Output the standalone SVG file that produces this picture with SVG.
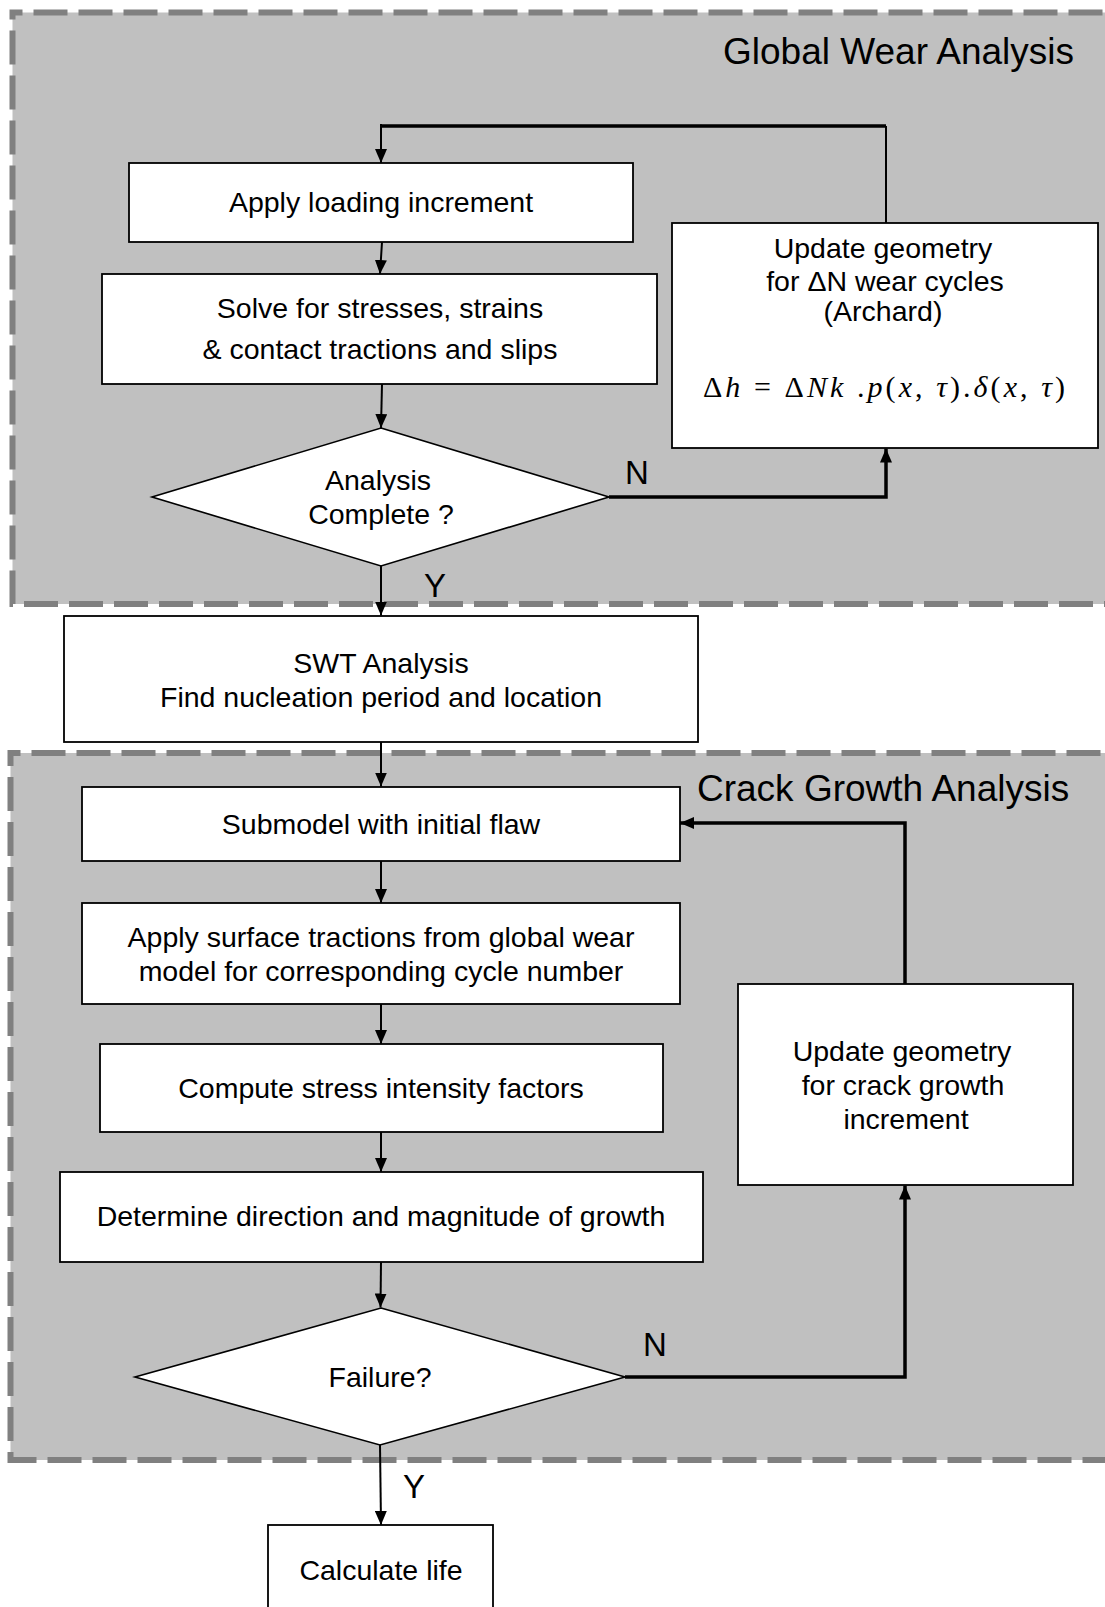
<svg xmlns="http://www.w3.org/2000/svg" width="1105" height="1607" viewBox="0 0 1105 1607">
<defs>
<marker id="ah" viewBox="0 0 14 12" refX="14" refY="6" markerWidth="14" markerHeight="12" markerUnits="userSpaceOnUse" orient="auto">
<path d="M0,0 L14,6 L0,12 z" fill="#000"/>
</marker>
</defs>
<style>
.region{fill:#c0c0c0;stroke:#808080;stroke-width:6;stroke-dasharray:34 11;stroke-dashoffset:24}
.box{fill:#fff;stroke:#000;stroke-width:1.8}
.dia{fill:#fff;stroke:#000;stroke-width:1.6}
.t{font-family:"Liberation Sans",Arial,Helvetica,sans-serif;font-size:28.5px;fill:#000;text-anchor:middle}
.title{font-family:"Liberation Sans",Arial,Helvetica,sans-serif;font-size:37px;fill:#000;text-anchor:start}
.lbl{font-family:"Liberation Sans",Arial,Helvetica,sans-serif;font-size:33px;fill:#000}
.eq{font-family:"Liberation Serif","Times New Roman",serif;font-size:30px;fill:#000}
.eq .i{font-style:italic}
.c{fill:none;stroke:#000;stroke-width:2}
.thick{fill:none;stroke:#000;stroke-width:3.5}
</style>
<rect width="1105" height="1607" fill="#fff"/>
<g id="global-region">
<rect class="region" x="12.5" y="12.5" width="1110" height="591.5"/>
<text class="title" x="723" y="64">Global Wear Analysis</text>
</g>
<g id="crack-region">
<rect class="region" x="10.5" y="753" width="1110" height="707"/>
<text class="title" x="697" y="801">Crack Growth Analysis</text>
</g>
<g id="connectors">
<line class="thick" x1="381" y1="126" x2="886" y2="126" stroke-width="4"/>
<line class="c" x1="886" y1="126" x2="886" y2="223" stroke-width="1.6"/>
<line class="c" x1="381" y1="124" x2="381" y2="163" marker-end="url(#ah)"/>
<line class="c" x1="382" y1="242" x2="380" y2="274" marker-end="url(#ah)"/>
<line class="c" x1="382" y1="384" x2="381" y2="428" marker-end="url(#ah)"/>
<path class="thick" d="M609,497 L886,497 L886,448.5" marker-end="url(#ah)"/>
<line class="c" x1="381" y1="566" x2="381" y2="615.5" marker-end="url(#ah)" stroke-width="2.5"/>
<line class="c" x1="381" y1="742" x2="381" y2="786.5" marker-end="url(#ah)"/>
<line class="c" x1="381" y1="861" x2="381" y2="903" marker-end="url(#ah)"/>
<line class="c" x1="381" y1="1004" x2="381" y2="1044" marker-end="url(#ah)"/>
<line class="c" x1="381" y1="1132" x2="381" y2="1172" marker-end="url(#ah)"/>
<line class="c" x1="381" y1="1262" x2="380.5" y2="1307.5" marker-end="url(#ah)" stroke-width="2.5"/>
<path class="thick" d="M905,984 L905,823 L680,823" stroke-width="3" marker-end="url(#ah)"/>
<path class="thick" d="M625,1377 L905,1377 L905,1185.5" marker-end="url(#ah)"/>
<line class="c" x1="380" y1="1445" x2="381" y2="1525" marker-end="url(#ah)" stroke-width="2.5"/>
<text class="lbl" x="625" y="484">N</text>
<text class="lbl" x="424" y="597">Y</text>
<text class="lbl" x="643" y="1356">N</text>
<text class="lbl" x="403" y="1498">Y</text>
</g>
<g id="apply-loading">
<rect class="box" x="129" y="163" width="504" height="79"/>
<text class="t" x="381" y="212">Apply loading increment</text>
</g>
<g id="solve">
<rect class="box" x="102" y="274" width="555" height="110"/>
<text class="t" x="380" y="318">Solve for stresses, strains</text>
<text class="t" x="380" y="359">&amp; contact tractions and slips</text>
</g>
<g id="update-wear">
<rect class="box" x="672" y="223" width="426" height="225"/>
<text class="t" x="883" y="258">Update geometry</text>
<text class="t" x="885" y="291">for ΔN wear cycles</text>
<text class="t" x="883" y="321">(Archard)</text>
<text class="eq" x="703" y="397" textLength="362" lengthAdjust="spacing">Δ<tspan class="i">h</tspan> = Δ<tspan class="i">Nk</tspan> .<tspan class="i">p</tspan>(<tspan class="i">x</tspan>, <tspan class="i">τ</tspan>).<tspan class="i">δ</tspan>(<tspan class="i">x</tspan>, <tspan class="i">τ</tspan>)</text>
</g>
<g id="analysis-complete">
<polygon class="dia" points="381,428 609,497 381,566 152,497"/>
<text class="t" x="378" y="490">Analysis</text>
<text class="t" x="381" y="524">Complete ?</text>
</g>
<g id="swt">
<rect class="box" x="64" y="616" width="634" height="126"/>
<text class="t" x="381" y="673">SWT Analysis</text>
<text class="t" x="381" y="707">Find nucleation period and location</text>
</g>
<g id="submodel">
<rect class="box" x="82" y="787" width="598" height="74"/>
<text class="t" x="381" y="834">Submodel with initial flaw</text>
</g>
<g id="apply-surface">
<rect class="box" x="82" y="903" width="598" height="101"/>
<text class="t" x="381" y="947">Apply surface tractions from global wear</text>
<text class="t" x="381" y="981">model for corresponding cycle number</text>
</g>
<g id="compute-sif">
<rect class="box" x="100" y="1044" width="563" height="88"/>
<text class="t" x="381" y="1098">Compute stress intensity factors</text>
</g>
<g id="determine">
<rect class="box" x="60" y="1172" width="643" height="90"/>
<text class="t" x="381" y="1226">Determine direction and magnitude of growth</text>
</g>
<g id="update-crack">
<rect class="box" x="738" y="984" width="335" height="201"/>
<text class="t" x="902" y="1061">Update geometry</text>
<text class="t" x="903" y="1095">for crack growth</text>
<text class="t" x="906" y="1129">increment</text>
</g>
<g id="failure">
<polygon class="dia" points="381,1308 625,1377 380,1445 135,1377"/>
<text class="t" x="380" y="1387">Failure?</text>
</g>
<g id="calculate-life">
<rect class="box" x="268" y="1525" width="225" height="90"/>
<text class="t" x="381" y="1580">Calculate life</text>
</g>
</svg>
